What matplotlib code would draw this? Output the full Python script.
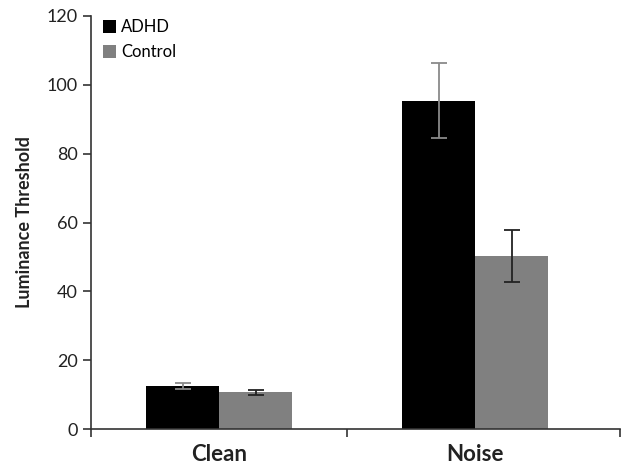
import numpy as np
import matplotlib.pyplot as plt

plt.rcParams['font.family'] = ['Lato', 'DejaVu Sans']

categories = ['Clean', 'Noise']
groups = ['ADHD', 'Control']
adhd_vals = [12.5, 95.4]
adhd_err = [0.8, 10.8]
control_vals = [10.7, 50.2]
control_err = [0.7, 7.5]

fig = plt.figure(figsize=(6.21, 4.68), dpi=100)
ax = fig.add_axes([0.1465, 0.083, 0.852, 0.883])

x = np.arange(len(categories))
w = 0.285
ax.bar(x - w/2, adhd_vals, w, color='black', label=groups[0])
ax.bar(x + w/2, control_vals, w, color='#808080', label=groups[1])
ax.errorbar(x - w/2, adhd_vals, yerr=adhd_err, fmt='none', ecolor='#8a8a8a',
            elinewidth=1.3, capsize=6, capthick=1.3)
ax.errorbar(x + w/2, control_vals, yerr=control_err, fmt='none', ecolor='#222222',
            elinewidth=1.3, capsize=6, capthick=1.3)

xmax = 1.566
ax.set_xlim(-0.5, xmax)
ax.set_ylim(0, 120)
ax.set_yticks(range(0, 121, 20))
ax.set_xticks([-0.5, 0.5, xmax])
ax.set_xticklabels([])
ax.set_xticks(x, minor=True)
ax.set_xticklabels(categories, minor=True, fontsize=16, fontweight='bold', color='#222222')
ax.tick_params(axis='x', which='minor', length=0, pad=11)
ax.tick_params(axis='x', which='major', length=6, width=1.2, color='#333333')
ax.tick_params(axis='y', length=6, width=1.2, color='#333333', labelsize=13,
               labelcolor='#222222')
ax.set_ylabel('Luminance Threshold', fontsize=13, fontweight='bold', labelpad=10,
              color='#222222')

for s in ['top', 'right']:
    ax.spines[s].set_visible(False)
for s in ['left', 'bottom']:
    ax.spines[s].set_color('#333333')
    ax.spines[s].set_linewidth(1.2)

ax.legend(loc='upper left', bbox_to_anchor=(0.0, 1.02), frameon=False, fontsize=12,
          handlelength=0.8, handleheight=0.8, handletextpad=0.3, labelspacing=0.55,
          borderaxespad=0.3)

plt.savefig('out.png', dpi=100)
